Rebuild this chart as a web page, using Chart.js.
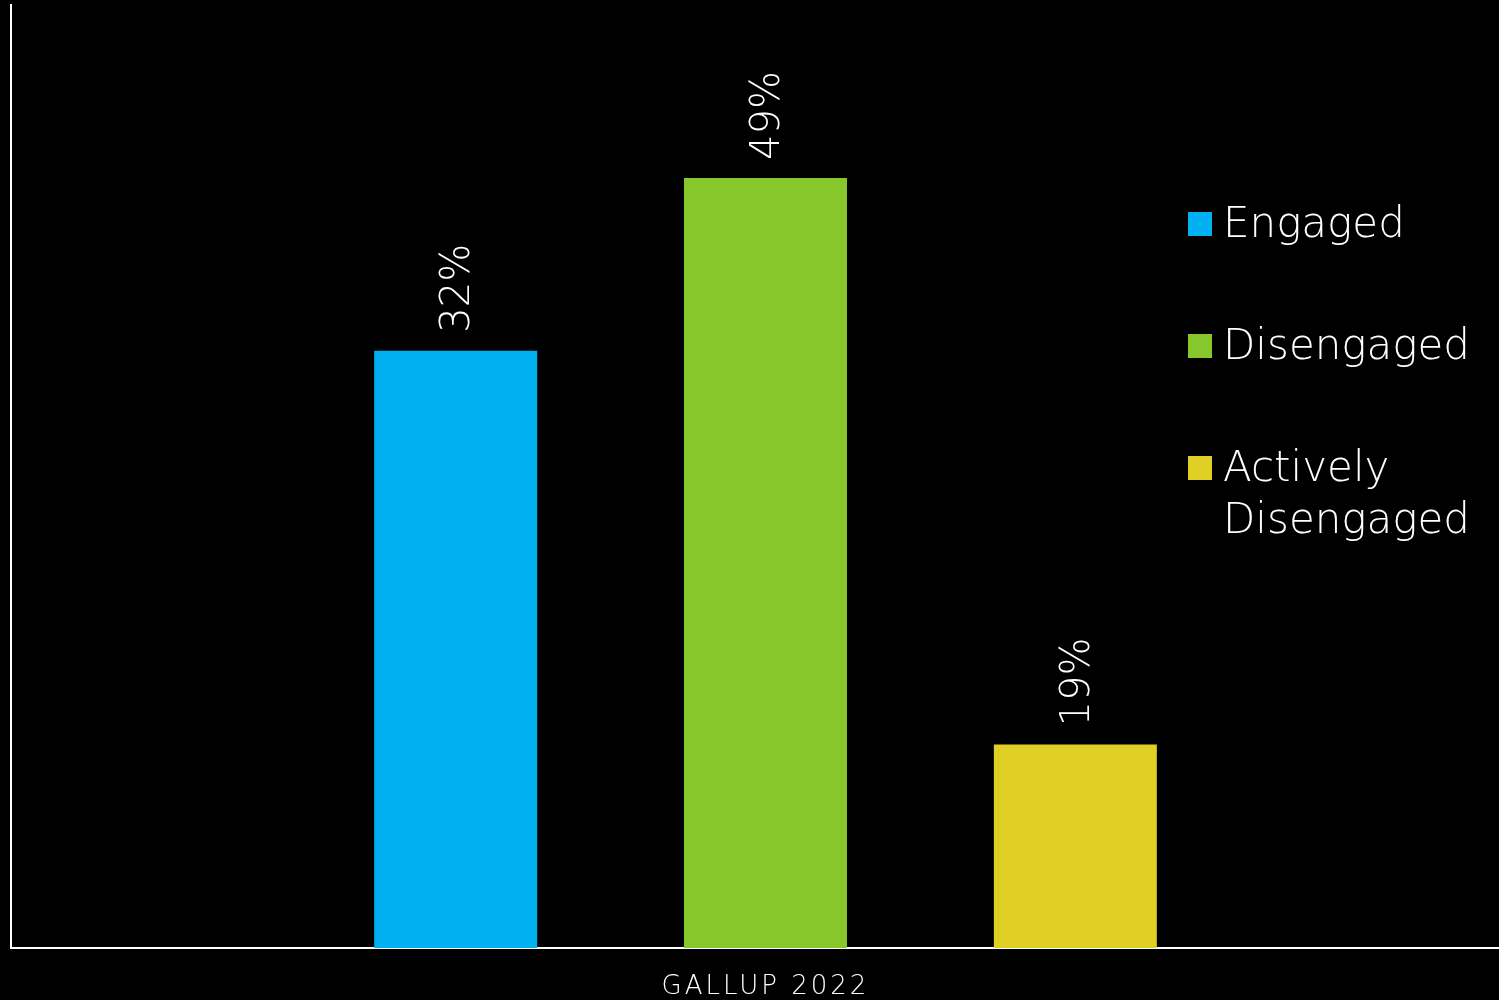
<!DOCTYPE html>
<html>
<head>
<meta charset="utf-8">
<script src="https://cdn.jsdelivr.net/npm/chart.js@4.4.0/dist/chart.umd.min.js"></script>
<style>
  html, body { margin: 0; padding: 0; background: #000; overflow: hidden; }
  #wrap { position: relative; width: 1520px; height: 1000px; }
  #legend { position: absolute; left: 1188px; top: 197px; width: 320px; font-family: "DejaVu Sans", sans-serif; font-weight: 200; color: #fff; }
  .item { display: flex; align-items: flex-start; margin-bottom: 70px; }
  .box { width: 24px; height: 24px; margin: 15px 11px 0 0; flex: none; }
  .txt { font-size: 42px; line-height: 52px; width: 285px; }
</style>
</head>
<body>
<div id="wrap">
  <canvas id="chart" width="1520" height="1000"></canvas>
  <div id="legend"></div>
</div>
<script>
// data
var categories = ['GALLUP 2022'];
var seriesNames = ['Engaged', 'Disengaged', 'Actively Disengaged'];
var shares = [32, 49, 19];              // printed percentages
var barHeights = [38.0, 49.0, 12.95];   // bar heights as drawn in the picture
var colors = ['#00B0F0', '#86C72B', '#E0D026'];

var datasets = [];
for (var i = 0; i < seriesNames.length; i++) {
  datasets.push({
    label: seriesNames[i],
    data: [barHeights[i]],
    share: shares[i],
    backgroundColor: colors[i],
    categoryPercentage: 0.616,
    barPercentage: 0.526
  });
}

const valueLabels = {
  id: 'valueLabels',
  beforeDraw: function(chart) {
    chart.ctx.letterSpacing = '3px';
  },
  beforeDatasetsDraw: function(chart) {
    chart.ctx.letterSpacing = '0px';
  },
  afterDatasetsDraw: function(chart) {
    const ctx = chart.ctx;
    chart.data.datasets.forEach(function(ds, i) {
      const bar = chart.getDatasetMeta(i).data[0];
      ctx.save();
      ctx.translate(bar.x + 3, bar.y - 18);
      ctx.rotate(-Math.PI / 2);
      ctx.fillStyle = '#fff';
      ctx.font = '200 40px "DejaVu Sans", sans-serif';
      ctx.textAlign = 'left';
      ctx.textBaseline = 'middle';
      ctx.fillText(ds.share + '%', 0, 0);
      ctx.restore();
    });
  }
};

const chart = new Chart(document.getElementById('chart'), {
  type: 'bar',
  data: { labels: categories, datasets: datasets },
  options: {
    responsive: false,
    animation: false,
    layout: { padding: { left: 11, top: 5, right: 0, bottom: 0 } },
    plugins: { legend: { display: false }, tooltip: { enabled: false } },
    scales: {
      x: {
        afterFit: function(scale) { scale.height = 52; },
        grid: { display: false, drawTicks: false },
        border: { color: '#fff', width: 2 },
        ticks: { color: '#fff', padding: 24, font: { family: '"DejaVu Sans", sans-serif', weight: 200, size: 26 } }
      },
      y: {
        min: 0,
        max: 60,
        afterFit: function(scale) { scale.width = 0; },
        grid: { display: false, drawTicks: false },
        border: { color: '#fff', width: 2 },
        ticks: { display: false }
      }
    }
  },
  plugins: [valueLabels]
});

// legend built from the chart's datasets
var legend = document.getElementById('legend');
chart.data.datasets.forEach(function(ds) {
  var item = document.createElement('div');
  item.className = 'item';
  item.innerHTML = '<span class="box" style="background:' + ds.backgroundColor + '"></span><span class="txt">' + ds.label + '</span>';
  legend.appendChild(item);
});
</script>
</body>
</html>
